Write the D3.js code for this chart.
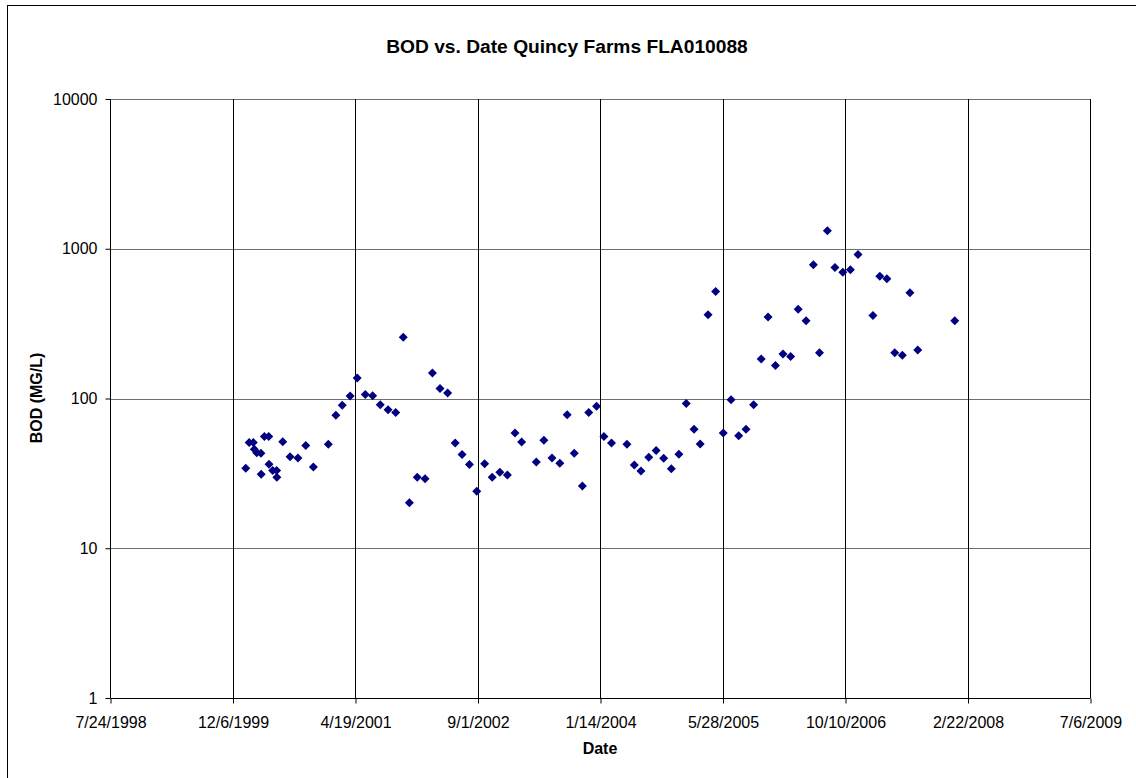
<!DOCTYPE html>
<html>
<head>
<meta charset="utf-8">
<script src="https://cdn.jsdelivr.net/npm/d3@7"></script>
<style>
  html, body { margin: 0; padding: 0; background: #fff; }
  svg { display: block; font-family: "Liberation Sans", Arial, sans-serif; }
</style>
</head>
<body>
<svg id="chart" width="1136" height="778"></svg>
<script>
// ---- data ----
const sampleDates = [
  "2000-01-29","2000-02-12","2000-02-29","2000-03-04","2000-03-14","2000-03-31","2000-04-01","2000-04-14",
  "2000-05-02","2000-05-03","2000-05-18","2000-06-03","2000-06-04","2000-06-28","2000-07-28","2000-08-29",
  "2000-09-30","2000-10-31","2000-12-31","2001-01-31","2001-02-26","2001-03-30","2001-04-28","2001-05-31",
  "2001-06-30","2001-07-31","2001-09-01","2001-10-02","2001-11-02","2001-11-27","2001-12-29","2002-01-30",
  "2002-03-01","2002-04-01","2002-05-02","2002-06-02","2002-06-30","2002-07-30","2002-08-29","2002-09-30",
  "2002-10-31","2002-12-01","2003-01-01","2003-02-01","2003-02-28","2003-04-29","2003-05-30","2003-07-02",
  "2003-08-03","2003-09-02","2003-10-01","2003-11-03","2003-11-29","2003-12-31","2004-01-30","2004-03-01",
  "2004-05-03","2004-06-02","2004-06-29","2004-07-31","2004-08-30","2004-09-30","2004-10-31","2004-12-01",
  "2004-12-31","2005-02-01","2005-02-26","2005-03-30","2005-04-30","2005-05-31","2005-07-02","2005-08-02",
  "2005-09-01","2005-10-02","2005-11-02","2005-11-30","2005-12-30","2006-01-30","2006-03-02","2006-04-02",
  "2006-05-04","2006-06-03","2006-06-28","2006-07-30","2006-08-30","2006-10-01","2006-11-01","2006-12-02",
  "2007-02-01","2007-03-01","2007-03-30","2007-05-01","2007-06-01","2007-07-02","2007-08-03","2008-01-01"
];
const bodValues = [
  34.2, 50.8, 50.8, 45.9, 43.5, 43.1, 31.2, 55.7,
  55.7, 36.4, 33.0, 33.0, 29.8, 51.5, 40.9, 40.1,
  48.5, 34.9, 49.5, 77.4, 90.3, 103.8, 136.9, 106.4,
  104.2, 90.8, 84.0, 80.6, 256, 20.1, 29.8, 29.1,
  147.9, 116.7, 108.7, 50.5, 42.2, 36.2, 24.0, 36.7,
  29.8, 32.2, 30.9, 58.9, 51.3, 37.7, 52.7, 40.1,
  36.9, 77.8, 43.1, 26.0, 80.6, 88.9, 55.7, 50.4,
  49.5, 36.0, 32.8, 40.5, 44.9, 39.9, 34.0, 42.4,
  92.6, 62.4, 49.7, 363, 518, 58.9, 98.0, 56.5,
  62.4, 90.8, 183.5, 350.6, 166.3, 198.3, 191.0, 394.2,
  330.2, 781.5, 202.2, 1319.7, 749.5, 697.2, 723.4, 915.9,
  357.8, 655.6, 629.6, 202.2, 194.1, 507.7, 210.9, 331.1
];
const xTickLabels = ["7/24/1998","12/6/1999","4/19/2001","9/1/2002","1/14/2004","5/28/2005","10/10/2006","2/22/2008","7/6/2009"];
const yTickValues = [1, 10, 100, 1000, 10000];
const titleText = "BOD vs. Date Quincy Farms FLA010088";
const xAxisTitle = "Date";
const yAxisTitle = "BOD (MG/L)";

// ---- helpers ----
function parseMDY(s) {
  const [m, d, y] = s.split("/").map(Number);
  return new Date(Date.UTC(y, m - 1, d));
}
const parseISO = d3.utcParse("%Y-%m-%d");
const points = sampleDates.map((d, i) => ({ date: parseISO(d), value: bodValues[i] }));
const xTicks = xTickLabels.map(parseMDY);

// ---- layout ----
const svg = d3.select("#chart");
const plot = { left: 110, right: 1090, top: 99, bottom: 698 };

// outer chart border (extends beyond the picture on right/bottom)
svg.append("rect")
  .attr("x", 7.5).attr("y", 5.5)
  .attr("width", 1140).attr("height", 790)
  .attr("fill", "#fff").attr("stroke", "#000").attr("stroke-width", 1);

const x = d3.scaleUtc()
  .domain([xTicks[0], xTicks[xTicks.length - 1]])
  .range([plot.left, plot.right]);
const y = d3.scaleLog()
  .domain([yTickValues[0], yTickValues[yTickValues.length - 1]])
  .range([plot.bottom, plot.top]);

// horizontal gridlines
svg.append("g")
  .selectAll("line")
  .data(yTickValues.slice(1))
  .join("line")
  .attr("x1", plot.left).attr("x2", plot.right)
  .attr("y1", d => Math.round(y(d)) + 0.5).attr("y2", d => Math.round(y(d)) + 0.5)
  .attr("stroke", "#6e6e6e").attr("stroke-width", 1);

// vertical gridlines
svg.append("g")
  .selectAll("line")
  .data(xTicks.slice(1))
  .join("line")
  .attr("x1", d => Math.round(x(d)) + 0.5).attr("x2", d => Math.round(x(d)) + 0.5)
  .attr("y1", plot.top).attr("y2", plot.bottom)
  .attr("stroke", "#000").attr("stroke-width", 1);

// x axis
const xAxis = d3.axisBottom(x)
  .tickValues(xTicks)
  .tickSize(5)
  .tickPadding(13)
  .tickFormat((d, i) => xTickLabels[i]);
const gx = svg.append("g")
  .attr("transform", `translate(0.5,${plot.bottom + 0.5})`)
  .call(xAxis);
gx.select(".domain").attr("d", `M${plot.left},0H${plot.right}`).attr("stroke", "#000");
gx.selectAll(".tick line").attr("stroke", "#000");
gx.selectAll(".tick text").attr("font-size", 16).attr("fill", "#000")
  .attr("font-family", "'Liberation Sans', Arial, sans-serif");

// y axis
const yAxis = d3.axisLeft(y)
  .tickValues(yTickValues)
  .tickSize(5)
  .tickPadding(8)
  .tickFormat(d3.format("d"));
const gy = svg.append("g")
  .attr("transform", `translate(${plot.left + 0.5},0)`)
  .call(yAxis);
gy.select(".domain").attr("d", `M0,${plot.top}V${plot.bottom}`).attr("stroke", "#000");
gy.selectAll(".tick line").attr("stroke", "#000");
gy.selectAll(".tick text").attr("font-size", 16).attr("fill", "#000")
  .attr("font-family", "'Liberation Sans', Arial, sans-serif");

// markers (diamonds)
const r = 4.5;
svg.append("g")
  .selectAll("path")
  .data(points)
  .join("path")
  .attr("transform", d => `translate(${x(d.date)},${y(d.value)})`)
  .attr("d", `M0,${-r}L${r},0L0,${r}L${-r},0Z`)
  .attr("fill", "#000080");

// titles
svg.append("text")
  .attr("x", 567).attr("y", 53)
  .attr("text-anchor", "middle")
  .attr("font-size", 19.2).attr("font-weight", "bold")
  .text(titleText);

svg.append("text")
  .attr("x", 600).attr("y", 754)
  .attr("text-anchor", "middle")
  .attr("font-size", 16).attr("font-weight", "bold")
  .text(xAxisTitle);

svg.append("text")
  .attr("transform", "translate(42,398) rotate(-90)")
  .attr("text-anchor", "middle")
  .attr("font-size", 16).attr("font-weight", "bold")
  .text(yAxisTitle);
</script>
</body>
</html>
